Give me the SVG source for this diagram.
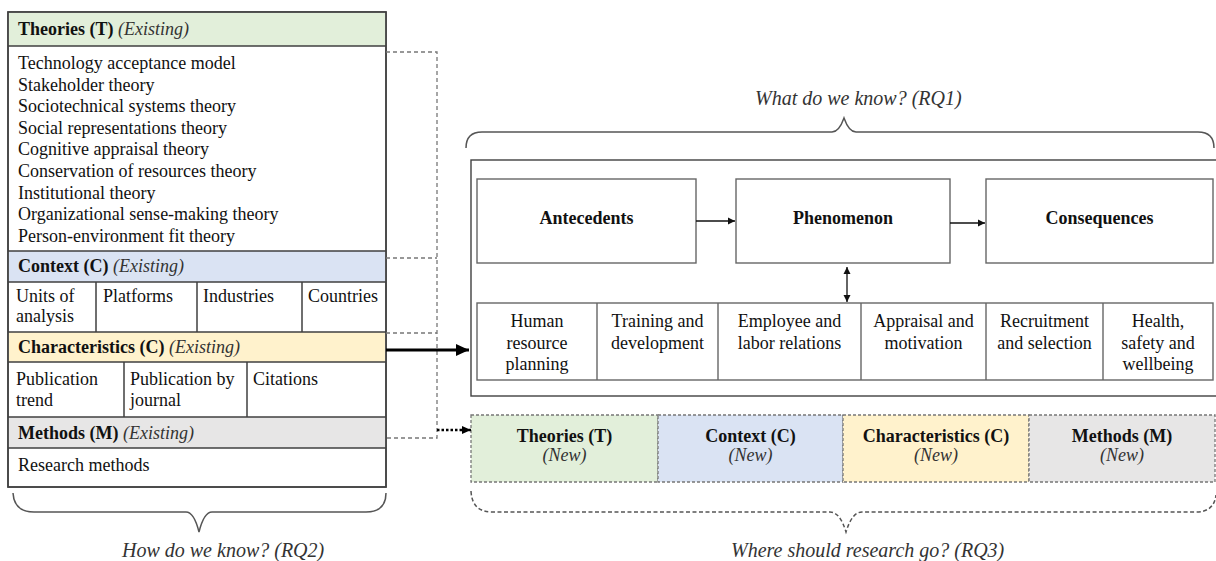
<svg xmlns="http://www.w3.org/2000/svg" width="1216" height="561" viewBox="0 0 1216 561">
<style>
text{font-family:"Liberation Serif","Times New Roman",serif;font-size:18px;fill:#111}
.b{font-weight:bold}
.i{font-style:italic;fill:#333}
.q{font-size:20px}
.c{text-anchor:middle}
.frame{fill:#fff;stroke:#404040;stroke-width:1.5}
.ln{stroke:#404040;stroke-width:1.5;fill:none}
.box{fill:#fff;stroke:#666;stroke-width:1.4}
.dash{stroke:#777;stroke-width:1.3;stroke-dasharray:4 3;fill:none}
.dbox{stroke:#777;stroke-width:1.3;stroke-dasharray:3 2}
.brace{fill:none;stroke:#555;stroke-width:1.5}
</style>
<defs>
<marker id="ah" markerWidth="8" markerHeight="8" refX="7" refY="4" orient="auto" markerUnits="userSpaceOnUse"><path d="M0,0.5 L7,4 L0,7.5 Z" fill="#111"/></marker>
<marker id="ahs" markerWidth="8" markerHeight="8" refX="7" refY="4" orient="auto-start-reverse" markerUnits="userSpaceOnUse"><path d="M0,0.5 L7,4 L0,7.5 Z" fill="#111"/></marker>
<marker id="ahb" markerWidth="14" markerHeight="12" refX="13" refY="6" orient="auto" markerUnits="userSpaceOnUse"><path d="M0,0 L13,6 L0,12 Z" fill="#000"/></marker>
<marker id="ahd" markerWidth="10" markerHeight="10" refX="9" refY="5" orient="auto" markerUnits="userSpaceOnUse"><path d="M0,1 L9,5 L0,9 Z" fill="#000"/></marker>
</defs>
<rect width="1216" height="561" fill="#fff"/>

<!-- Left panel -->
<g id="left-panel">
<rect class="frame" x="8" y="12" width="378" height="475"/>
<rect x="8.75" y="12.75" width="376.5" height="33.25" fill="#e2efda"/>
<rect x="8.75" y="251" width="376.5" height="31" fill="#dae3f3"/>
<rect x="8.75" y="332" width="376.5" height="30" fill="#fff2cc"/>
<rect x="8.75" y="417" width="376.5" height="31" fill="#e7e6e6"/>
<path class="ln" d="M8 46H386M8 251H386M8 282H386M8 332H386M8 362H386M8 417H386M8 448H386"/>
<path class="ln" d="M96 282V332M197 282V332M302 282V332M124 362V417M247 362V417"/>
<rect x="8" y="12" width="378" height="475" fill="none" stroke="#404040" stroke-width="1.5"/>
</g>
<g id="theories-existing">
<text x="18" y="35"><tspan class="b">Theories (T)</tspan> <tspan class="i">(Existing)</tspan></text>
<text x="18" y="69">Technology acceptance model</text>
<text x="18" y="90.6">Stakeholder theory</text>
<text x="18" y="112.2">Sociotechnical systems theory</text>
<text x="18" y="133.8">Social representations theory</text>
<text x="18" y="155.4">Cognitive appraisal theory</text>
<text x="18" y="177">Conservation of resources theory</text>
<text x="18" y="198.6">Institutional theory</text>
<text x="18" y="220.2">Organizational sense-making theory</text>
<text x="18" y="241.8">Person-environment fit theory</text>
</g>
<g id="context-existing">
<text x="18" y="272"><tspan class="b">Context (C)</tspan> <tspan class="i">(Existing)</tspan></text>
<text x="16" y="302">Units of</text>
<text x="16" y="322">analysis</text>
<text x="103" y="302">Platforms</text>
<text x="203" y="302">Industries</text>
<text x="308" y="302">Countries</text>
</g>
<g id="characteristics-existing">
<text x="18" y="353"><tspan class="b">Characteristics (C)</tspan> <tspan class="i">(Existing)</tspan></text>
<text x="16" y="385">Publication</text>
<text x="16" y="406">trend</text>
<text x="130" y="385">Publication by</text>
<text x="130" y="406">journal</text>
<text x="253" y="385">Citations</text>
</g>
<g id="methods-existing">
<text x="18" y="439"><tspan class="b">Methods (M)</tspan> <tspan class="i">(Existing)</tspan></text>
<text x="18" y="471">Research methods</text>
</g>

<!-- Right framework -->
<g id="framework">
<rect x="471" y="160" width="747" height="236" fill="#fff" stroke="#404040" stroke-width="1.4"/>
</g>
<g id="antecedents">
<rect class="box" x="477" y="179" width="219" height="84"/>
<text class="b c" x="586.5" y="224">Antecedents</text>
</g>
<g id="phenomenon">
<rect class="box" x="736" y="179" width="214" height="84"/>
<text class="b c" x="843" y="224">Phenomenon</text>
</g>
<g id="consequences">
<rect class="box" x="986" y="179" width="227" height="84"/>
<text class="b c" x="1099.5" y="224">Consequences</text>
</g>
<g id="hr-functions">
<rect class="box" x="477" y="303" width="736" height="77"/>
<path stroke="#666" stroke-width="1.4" d="M597 303V380M718 303V380M861 303V380M986 303V380M1103 303V380"/>
<text class="c" x="537" y="327">Human</text>
<text class="c" x="537" y="348.5">resource</text>
<text class="c" x="537" y="370">planning</text>
<text class="c" x="657.5" y="327">Training and</text>
<text class="c" x="657.5" y="348.5">development</text>
<text class="c" x="789.5" y="327">Employee and</text>
<text class="c" x="789.5" y="348.5">labor relations</text>
<text class="c" x="923.5" y="327">Appraisal and</text>
<text class="c" x="923.5" y="348.5">motivation</text>
<text class="c" x="1044.5" y="327">Recruitment</text>
<text class="c" x="1044.5" y="348.5">and selection</text>
<text class="c" x="1158" y="327">Health,</text>
<text class="c" x="1158" y="348.5">safety and</text>
<text class="c" x="1158" y="370">wellbeing</text>
</g>

<!-- New research boxes -->
<g id="theories-new">
<rect class="dbox" x="471" y="415" width="187" height="67" fill="#e2efda"/>
<text class="b c" x="564.5" y="442">Theories (T)</text>
<text class="i c" x="564.5" y="461">(New)</text>
</g>
<g id="context-new">
<rect class="dbox" x="658" y="415" width="185" height="67" fill="#dae3f3"/>
<text class="b c" x="750.5" y="442">Context (C)</text>
<text class="i c" x="750.5" y="461">(New)</text>
</g>
<g id="characteristics-new">
<rect class="dbox" x="843" y="415" width="186" height="67" fill="#fff2cc"/>
<text class="b c" x="936" y="442">Characteristics (C)</text>
<text class="i c" x="936" y="461">(New)</text>
</g>
<g id="methods-new">
<rect class="dbox" x="1029" y="415" width="186" height="67" fill="#e7e6e6"/>
<text class="b c" x="1122" y="442">Methods (M)</text>
<text class="i c" x="1122" y="461">(New)</text>
</g>

<!-- Braces and questions -->
<g id="rq1">
<path class="brace" d="M466 148Q466 132 482 132L832 132Q839 132 844 118Q849 132 856 132L1198 132Q1214 132 1214 148"/>
<text class="i q" x="755" y="105">What do we know? (RQ1)</text>
</g>
<g id="rq2">
<path class="brace" d="M13 493Q14 512 34 512L186 512Q194 512 199 532Q204 512 212 512L366 512Q386 512 386 493"/>
<text class="i q" x="122" y="557">How do we know? (RQ2)</text>
</g>
<g id="rq3">
<path class="brace" stroke-dasharray="4 2.5" d="M471 491Q472 512 492 512L830 512Q840 512 846 532Q852 512 862 512L1196 512Q1214 512 1216 495"/>
<text class="i q" x="731" y="557">Where should research go? (RQ3)</text>
</g>

<!-- Connectors -->
<g id="connectors">
<path class="dash" d="M386 52H437V438H386M386 258H437M386 333H437"/>
<line x1="437" y1="430" x2="471" y2="430" stroke="#000" stroke-width="2.5" stroke-dasharray="2.5 2" marker-end="url(#ahd)"/>
<line x1="386" y1="350" x2="469" y2="350" stroke="#000" stroke-width="3" marker-end="url(#ahb)"/>
<line x1="696" y1="221" x2="735" y2="221" stroke="#111" stroke-width="1.3" marker-end="url(#ah)"/>
<line x1="950" y1="223" x2="985" y2="223" stroke="#111" stroke-width="1.3" marker-end="url(#ah)"/>
<line x1="847" y1="267" x2="847" y2="302" stroke="#111" stroke-width="1.3" marker-start="url(#ahs)" marker-end="url(#ah)"/>
</g>
</svg>
